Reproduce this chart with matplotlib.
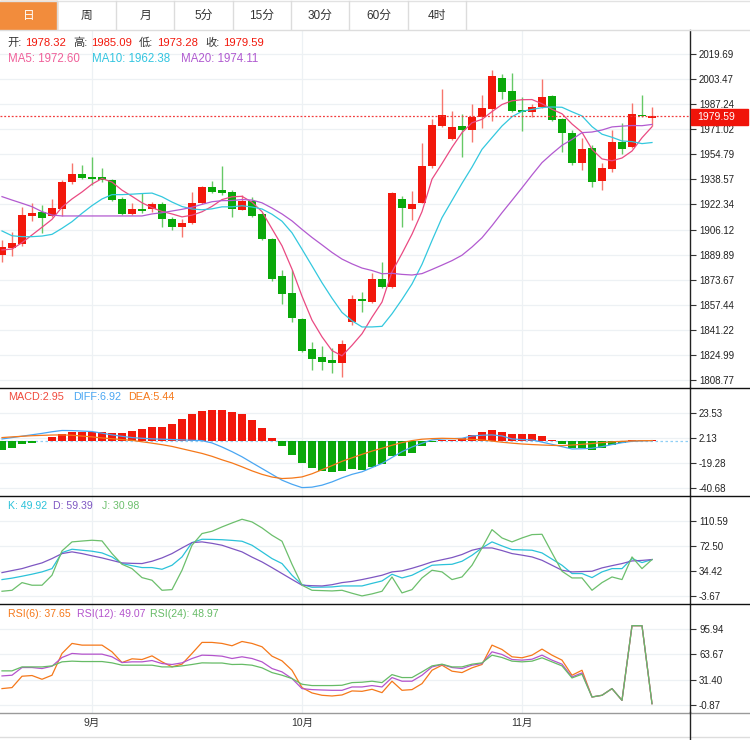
import numpy as np
import matplotlib
matplotlib.use('Agg')
import matplotlib.pyplot as plt
from matplotlib.patches import Rectangle
from matplotlib.lines import Line2D

plt.rcParams['font.family'] = ['Liberation Sans', 'Noto Sans CJK SC', 'DejaVu Sans']

tabs = ['日', '周', '月', '5分', '15分', '30分', '60分', '4时']
month_pos = [9, 30, 52]
month_labels = ['9月', '10月', '11月']

opens = [1889.6, 1894.2, 1896.8, 1914.9, 1917.5, 1914.9, 1919.4, 1936.9, 1942.1, 1940.1,
         1940.1, 1938.2, 1925.9, 1916.2, 1919.4, 1919.4, 1922.6, 1912.9, 1907.8, 1910.3,
         1923.3, 1933.6, 1931.7, 1930.4, 1918.8, 1924.6, 1916.2, 1900.0, 1876.1, 1865.0,
         1848.2, 1828.8, 1823.6, 1821.7, 1819.8, 1846.3, 1861.2, 1859.2, 1874.1, 1868.9,
         1925.9, 1919.4, 1923.3, 1947.2, 1973.1, 1964.7, 1973.1, 1970.5, 1978.9, 1984.1,
         2004.2, 1995.8, 1983.5, 1982.2, 1985.4, 1992.5, 1977.6, 1968.6, 1949.2, 1958.9,
         1937.5, 1945.3, 1962.8, 1959.5, 1980.2, 1978.32]
highs = [1899.4, 1904.5, 1920.7, 1923.3, 1922.0, 1925.9, 1938.2, 1949.2, 1947.9, 1953.1,
         1945.9, 1938.8, 1927.2, 1923.3, 1929.8, 1923.9, 1923.9, 1914.2, 1912.9, 1930.4,
         1934.3, 1937.5, 1947.2, 1931.7, 1928.5, 1927.2, 1916.8, 1900.6, 1879.9, 1879.9,
         1848.9, 1833.4, 1830.8, 1829.5, 1834.7, 1863.8, 1865.7, 1878.0, 1885.1, 1930.4,
         1927.8, 1931.0, 1962.1, 1977.6, 1997.1, 1982.8, 1980.9, 1987.3, 1993.2, 2009.3,
         2006.8, 2007.4, 1991.9, 1987.3, 2003.5, 1993.2, 1978.3, 1970.5, 1965.3, 1960.8,
         1949.2, 1970.5, 1975.0, 1988.0, 1993.2, 1985.09]
lows = [1885.1, 1889.0, 1895.5, 1911.6, 1903.9, 1914.2, 1914.9, 1935.6, 1938.8, 1934.9,
        1936.9, 1924.5, 1915.5, 1915.5, 1916.8, 1917.5, 1907.8, 1905.8, 1901.3, 1909.7,
        1922.6, 1929.8, 1928.5, 1914.2, 1918.8, 1914.2, 1899.4, 1872.8, 1857.9, 1846.3,
        1826.9, 1815.2, 1815.2, 1813.3, 1810.7, 1844.3, 1852.8, 1858.6, 1868.3, 1868.3,
        1907.8, 1912.3, 1923.3, 1945.9, 1972.5, 1964.0, 1953.0, 1962.8, 1971.8, 1976.3,
        1990.6, 1982.2, 1969.9, 1978.9, 1984.8, 1976.3, 1956.3, 1947.9, 1944.6, 1933.6,
        1931.7, 1943.3, 1955.0, 1958.9, 1978.9, 1973.28]
closes = [1894.8, 1897.4, 1915.5, 1916.8, 1913.6, 1920.1, 1936.9, 1942.1, 1939.5, 1938.8,
          1938.2, 1925.2, 1916.2, 1919.4, 1918.1, 1922.6, 1912.9, 1907.8, 1910.3, 1923.3,
          1933.6, 1930.4, 1929.8, 1919.4, 1924.6, 1914.9, 1900.0, 1874.1, 1864.4, 1848.9,
          1827.5, 1822.4, 1820.4, 1819.8, 1832.1, 1861.2, 1859.9, 1874.1, 1868.9, 1929.8,
          1920.1, 1922.6, 1947.2, 1973.8, 1980.2, 1972.5, 1970.5, 1978.9, 1984.8, 2005.5,
          1995.1, 1982.8, 1982.2, 1985.4, 1991.9, 1977.0, 1968.6, 1949.2, 1958.2, 1936.9,
          1945.9, 1962.8, 1958.2, 1980.9, 1979.6, 1979.59]

ma5 = [1892.9, 1893.5, 1897.6, 1902.6, 1907.6, 1912.7, 1920.6, 1925.9, 1930.4, 1935.5,
       1939.1, 1936.8, 1931.6, 1927.6, 1923.4, 1920.3, 1917.8, 1916.2, 1914.3, 1915.4,
       1917.6, 1921.1, 1925.5, 1927.3, 1927.6, 1923.8, 1917.7, 1906.6, 1895.6, 1880.5,
       1863.0, 1847.5, 1836.7, 1827.8, 1824.4, 1831.2, 1838.7, 1849.4, 1859.2, 1878.8,
       1890.6, 1903.1, 1917.7, 1938.7, 1948.8, 1959.3, 1968.8, 1975.2, 1977.4, 1982.4,
       1987.0, 1989.4, 1990.1, 1990.2, 1987.5, 1983.9, 1981.0, 1974.4, 1969.0, 1958.0,
       1951.8, 1950.6, 1952.4, 1956.9, 1965.5, 1972.6]
ma10 = [1905.2, 1902.1, 1901.5, 1901.5, 1901.9, 1903.0, 1906.9, 1911.2, 1916.6, 1921.6,
        1925.9, 1928.7, 1928.7, 1929.0, 1929.4, 1929.7, 1927.3, 1923.9, 1921.0, 1919.4,
        1918.9, 1919.5, 1920.8, 1920.8, 1921.5, 1920.7, 1919.4, 1916.0, 1911.5, 1904.0,
        1893.4, 1882.6, 1871.7, 1861.7, 1852.5, 1847.1, 1843.1, 1843.1, 1843.5, 1851.6,
        1860.9, 1870.9, 1883.6, 1899.0, 1913.8, 1924.9, 1936.0, 1946.5, 1958.0, 1965.6,
        1973.1, 1979.1, 1982.6, 1983.8, 1985.0, 1985.4, 1985.2, 1982.3, 1979.6, 1972.7,
        1967.8, 1965.8, 1963.4, 1963.0, 1961.7, 1962.4]
ma20 = [1927.4, 1925.2, 1923.1, 1920.9, 1917.7, 1915.5, 1914.9, 1914.9, 1914.9, 1914.9,
        1914.9, 1914.9, 1914.9, 1914.9, 1914.9, 1916.2, 1917.0, 1918.1, 1919.2, 1920.5,
        1922.4, 1924.1, 1924.8, 1924.9, 1925.5, 1925.2, 1923.4, 1920.0, 1916.2, 1911.7,
        1906.2, 1901.0, 1896.2, 1891.3, 1887.0, 1883.9, 1881.2, 1879.6, 1877.5, 1877.8,
        1877.1, 1876.7, 1877.6, 1880.3, 1883.1, 1886.0, 1889.5, 1894.8, 1900.8, 1908.6,
        1917.0, 1925.0, 1933.1, 1941.4, 1949.4, 1955.2, 1960.6, 1964.4, 1968.8, 1969.2,
        1970.5, 1972.5, 1973.0, 1973.4, 1973.3, 1974.1]

macd = [-8.1, -6.6, -2.9, -2.0, -0.3, 2.9, 6.1, 7.8, 7.8, 7.8,
        7.5, 6.3, 6.9, 8.4, 9.8, 11.3, 12.1, 14.4, 18.5, 23.1,
        25.7, 26.3, 26.3, 24.5, 23.1, 17.3, 10.7, 2.0, -4.6, -12.4,
        -19.0, -23.4, -26.3, -27.4, -26.5, -24.8, -25.4, -23.1, -20.5, -13.6,
        -13.6, -10.4, -4.6, -1.2, 0.2, 0.3, 2.3, 4.6, 7.2, 8.9,
        7.2, 6.1, 6.1, 5.5, 3.8, 0.2, -3.2, -6.6, -6.6, -8.4,
        -6.3, -3.8, -2.0, 0.3, 0.5, 0.8]
diff = [1.4, 2.6, 3.8, 5.0, 6.2, 7.6, 8.7, 8.6, 8.2, 7.8,
        6.4, 4.9, 3.7, 2.6, 2.0, 1.5, 1.2, 0.9, 0.6, 0.3,
        0.0, -2.0, -5.5, -9.5, -13.9, -19.0, -24.0, -29.0, -34.0, -37.5,
        -40.4, -40.0, -38.3, -35.5, -32.0, -29.0, -26.8, -23.2, -19.6, -14.5,
        -9.5, -5.5, -2.3, 0.6, 1.4, 1.7, 2.0, 4.0, 4.6, 4.9,
        4.0, 1.4, 0.9, 0.6, -1.3, -3.2, -5.2, -7.2, -7.0, -6.6,
        -5.2, -3.4, -1.8, -0.6, -0.2, 0.0]
dea = [2.6, 3.2, 3.7, 4.2, 4.5, 4.8, 4.9, 4.6, 3.9, 3.2,
       2.3, 1.6, 0.9, 0.2, -1.0, -2.2, -3.5, -5.0, -7.0, -9.0,
       -11.0, -13.5, -16.5, -19.2, -22.5, -26.0, -29.0, -31.3, -32.6, -32.2,
       -31.2, -28.5, -25.0, -21.5, -17.8, -14.8, -11.8, -9.0, -6.6, -4.0,
       -1.7, 0.0, 1.2, 1.7, 2.0, 1.8, 1.4, 1.0, 0.6, -0.4,
       -1.4, -2.2, -2.9, -3.4, -3.8, -4.1, -4.3, -3.8, -3.2, -2.5,
       -1.7, -1.1, -0.6, -0.3, -0.1, 0.0]

k_line = [21.8, 24.0, 26.9, 30.0, 33.5, 38.5, 62.9, 68.0, 66.5, 65.0,
          62.4, 56.3, 46.2, 43.0, 40.1, 40.1, 37.5, 43.6, 56.3, 78.1,
          83.2, 83.0, 82.5, 81.5, 80.2, 74.1, 64.0, 53.8, 46.2, 28.4,
          14.2, 10.1, 10.3, 10.6, 12.1, 12.1, 12.1, 16.0, 19.7, 29.9,
          24.3, 28.4, 36.0, 43.6, 44.5, 45.1, 49.7, 58.8, 70.0, 79.2,
          73.1, 67.5, 67.0, 66.5, 62.4, 53.0, 43.6, 31.0, 31.0, 24.8,
          33.5, 38.5, 38.5, 53.8, 47.7, 52.3]
d_line = [32.4, 35.5, 38.5, 43.0, 47.2, 53.8, 61.4, 64.0, 61.4, 58.0,
          54.8, 51.0, 47.2, 46.5, 46.2, 49.7, 54.8, 61.4, 70.0, 78.1,
          79.2, 77.0, 74.1, 69.0, 64.0, 56.0, 48.7, 40.0, 31.0, 22.0,
          13.2, 12.5, 12.1, 14.0, 17.2, 19.0, 21.8, 25.0, 28.4, 33.5,
          35.0, 39.0, 43.6, 48.7, 52.0, 55.3, 60.0, 66.5, 70.0, 70.0,
          66.0, 61.4, 59.0, 56.3, 51.2, 43.6, 36.0, 33.5, 34.0, 34.5,
          39.6, 43.0, 46.2, 50.2, 51.0, 52.3]
j_line = [4.0, 5.5, 17.2, 13.2, 13.2, 28.4, 65.5, 79.2, 80.5, 81.7,
          80.7, 61.4, 45.1, 38.5, 24.8, 20.8, 5.5, 6.5, 36.0, 74.1,
          91.9, 95.4, 102.0, 108.0, 113.7, 109.6, 100.5, 89.3, 80.2, 45.1,
          13.2, 5.5, 5.0, 4.5, 5.5, 1.0, -3.1, 0.0, 4.0, 25.8,
          1.5, 6.5, 24.3, 36.0, 33.5, 21.8, 25.8, 43.6, 70.0, 97.9,
          85.2, 79.2, 85.2, 90.3, 90.8, 62.4, 34.5, 24.3, 24.3, 5.5,
          17.2, 25.8, 21.8, 56.3, 38.5, 52.3]

rsi6 = [19.8, 21.1, 35.7, 36.6, 31.8, 37.0, 65.0, 77.9, 75.7, 75.7,
        75.7, 67.1, 53.3, 58.1, 57.2, 61.9, 54.2, 47.8, 51.2, 65.0,
        79.2, 79.2, 77.9, 74.9, 80.4, 77.9, 73.6, 61.5, 55.5, 43.4,
        21.1, 14.2, 11.2, 10.3, 11.6, 16.8, 16.3, 18.9, 14.6, 29.3,
        17.6, 18.5, 26.2, 43.4, 49.9, 42.2, 40.4, 46.5, 50.8, 75.7,
        70.1, 60.7, 59.4, 62.8, 70.6, 62.8, 56.4, 37.0, 43.4, 9.0,
        11.2, 19.8, 4.7, 100.7, 100.7, 0.4]
rsi12 = [36.1, 37.0, 46.9, 46.9, 45.6, 48.6, 59.8, 65.0, 64.1, 64.1,
         64.1, 60.7, 53.3, 54.2, 54.2, 55.9, 52.0, 50.8, 52.9, 58.5,
         62.8, 62.4, 61.5, 58.5, 60.7, 58.5, 54.2, 45.6, 41.3, 32.7,
         19.8, 18.5, 18.0, 17.6, 17.6, 21.9, 21.9, 23.7, 21.9, 34.0,
         29.3, 29.3, 37.0, 47.7, 50.8, 46.9, 45.6, 49.9, 52.0, 67.1,
         63.7, 57.2, 56.4, 57.6, 62.8, 56.4, 51.2, 34.8, 40.0, 9.0,
         11.2, 19.8, 4.7, 100.7, 100.7, 0.4]
rsi24 = [42.6, 42.6, 47.7, 47.7, 47.7, 49.0, 54.2, 55.1, 54.6, 54.6,
         54.6, 52.9, 49.9, 49.9, 49.9, 49.9, 47.7, 47.7, 49.0, 50.8,
         52.9, 52.7, 52.7, 50.8, 51.0, 49.9, 46.5, 40.4, 37.0, 32.7,
         25.4, 23.7, 23.7, 23.7, 24.1, 27.5, 28.0, 29.3, 27.5, 37.8,
         34.0, 34.0, 41.3, 49.0, 51.2, 47.7, 47.7, 51.2, 52.9, 62.8,
         59.8, 55.1, 54.2, 55.1, 59.4, 54.2, 49.0, 33.5, 38.3, 9.0,
         11.2, 19.8, 4.7, 100.7, 100.7, 0.4]

price_ticks = [2019.69, 2003.47, 1987.24, 1971.02, 1954.79, 1938.57, 1922.34,
               1906.12, 1889.89, 1873.67, 1857.44, 1841.22, 1824.99, 1808.77]
macd_ticks = [23.53, 2.13, -19.28, -40.68]
kdj_ticks = [110.59, 72.50, 34.42, -3.67]
rsi_ticks = [95.94, 63.67, 31.40, -0.87]

RED = '#f2180c'
GREEN = '#0aa80a'
GRID = '#edf1f4'

W, H = 750, 740
fig = plt.figure(figsize=(7.5, 7.4), dpi=100)


def fy(y):
    return 1 - y / H


def panel(top, bottom):
    return fig.add_axes([0, fy(bottom), 690 / W, (bottom - top) / H])


def put(x, y, s, color, size=7.5):
    fig.text(x / W, fy(y), s, color=color, fontsize=size, va='center', ha='left')


def style(ax, ticks, ylim):
    ax.set_xlim(-0.2, 68.8)
    ax.set_ylim(*ylim)
    ax.set_xticks(month_pos)
    ax.tick_params(axis='x', length=0, labelbottom=False)
    ax.yaxis.tick_right()
    ax.set_yticks(ticks)
    ax.set_yticklabels(['%.2f' % t for t in ticks])
    ax.tick_params(axis='y', labelsize=7, length=4, color='#333', labelcolor='#222', pad=2.5)
    ax.grid(True, color=GRID, lw=0.9)
    ax.set_axisbelow(True)
    for s in ['top', 'left', 'bottom']:
        ax.spines[s].set_visible(False)
    ax.spines['right'].set_color('#222')
    ax.spines['right'].set_linewidth(1)


idx = np.arange(len(closes))
o = np.array(opens)
c = np.array(closes)
up = c >= o

# price panel
ax_k = panel(30, 388)
style(ax_k, price_ticks, (1803.6, 2035.2))
ax_k.vlines(idx, lows, highs, colors=np.where(up, '#f7766d', '#66c966'), lw=1, zorder=2)
ax_k.bar(idx, np.maximum(np.abs(c - o), 0.7), bottom=np.minimum(o, c), width=0.8,
         color=np.where(up, RED, GREEN), zorder=3)
ax_k.plot(idx, ma5, color='#ea4a82', lw=0.9, zorder=4)
ax_k.plot(idx, ma10, color='#33c8de', lw=0.9, zorder=4)
ax_k.plot(idx, ma20, color='#b25ad0', lw=0.9, zorder=4)
ax_k.axhline(closes[-1], color='#f23c3c', ls=(0, (1.5, 1.5)), lw=0.9, zorder=5)

# macd panel
ax_m = panel(388, 496)
style(ax_m, macd_ticks, (-47.6, 45.2))
mv = np.array(macd)
ax_m.bar(idx, mv, width=0.8, color=np.where(mv >= 0, RED, GREEN), zorder=2)
ax_m.axhline(0, color='#8fcff5', ls=(0, (2, 2)), lw=0.9, zorder=1)
ax_m.plot(idx, diff, color='#4aa6f2', lw=0.9, zorder=3)
ax_m.plot(idx, dea, color='#f5781a', lw=0.9, zorder=3)

# kdj panel
ax_j = panel(496, 604)
style(ax_j, kdj_ticks, (-15.4, 149.1))
ax_j.plot(idx, k_line, color='#2bc2d9', lw=0.9)
ax_j.plot(idx, d_line, color='#7e57c2', lw=0.9)
ax_j.plot(idx, j_line, color='#6cbf6c', lw=0.9)

# rsi panel
ax_r = panel(604, 712.7)
style(ax_r, rsi_ticks, (-11.2, 128.6))
ax_r.plot(idx, rsi6, color='#f5781a', lw=0.9)
ax_r.plot(idx, rsi12, color='#b454cc', lw=0.9)
ax_r.plot(idx, rsi24, color='#66bb66', lw=0.9)
ax_r.set_xticks(month_pos, month_labels)
ax_r.tick_params(axis='x', labelbottom=True, length=0, pad=3.5, labelsize=7.5, labelcolor='#333')

# separators
for y, col in [(30, '#dddddd'), (388, '#111111'), (496, '#111111'), (604, '#111111'),
               (712.7, '#9a9a9a'), (737, '#dddddd')]:
    fig.add_artist(Line2D([0, 1], [fy(y), fy(y)], color=col, lw=1))
fig.add_artist(Line2D([690 / W, 690 / W], [fy(712), fy(740)], color='#222', lw=1))

# tab bar
ax_t = fig.add_axes([0, fy(30), 1, 30 / H])
ax_t.set_xlim(0, W)
ax_t.set_ylim(30, 0)
ax_t.axis('off')
edges = [0, 57.3, 115.7, 174.3, 232.7, 291, 349.3, 407.7, 466]
ax_t.add_patch(Rectangle((0, 1), edges[1], 29, color='#f28c3c'))
ax_t.plot([0, W], [1, 1], color='#e2e2e2', lw=1)
for e in edges[1:]:
    ax_t.plot([e, e], [1, 30], color='#dcdcdc', lw=1)
for n, name in enumerate(tabs):
    ax_t.text((edges[n] + edges[n + 1]) / 2, 15.5, name, ha='center', va='center',
              fontsize=8.5, color='white' if n == 0 else '#333')

# price label
fig.add_artist(Rectangle((691 / W, fy(124.5)), 57 / W, 16 / H, color='#f0140a',
                         transform=fig.transFigure))
put(697, 116.5, '%.2f' % closes[-1], 'white', 7.5)

# legends
put(7, 43, '开:', '#333', 8.1)
put(25, 43, '%.2f' % opens[-1], RED, 8.1)
put(73, 43, '高:', '#333', 8.1)
put(91, 43, '%.2f' % highs[-1], RED, 8.1)
put(139, 43, '低:', '#333', 8.1)
put(157, 43, '%.2f' % lows[-1], RED, 8.1)
put(205, 43, '收:', '#333', 8.1)
put(223, 43, '%.2f' % closes[-1], RED, 8.1)
put(8, 59, 'MA5: %.2f' % ma5[-1], '#f0609a', 8.3)
put(92, 59, 'MA10: %.2f' % 1962.38, '#32c5e0', 8.3)
put(181, 59, 'MA20: %.2f' % 1974.11, '#b05ad0', 8.3)

put(8, 397, 'MACD:2.95', '#f04a3c', 7.8)
put(73, 397, 'DIFF:6.92', '#4aa6f2', 7.8)
put(128, 397, 'DEA:5.44', '#f5781a', 7.8)

put(8, 506, 'K: 49.92', '#2bc2d9', 7.6)
put(53, 506, 'D: 59.39', '#7e57c2', 7.6)
put(102, 506, 'J: 30.98', '#6cbf6c', 7.6)

put(8, 614, 'RSI(6): 37.65', '#f5781a', 7.6)
put(77, 614, 'RSI(12): 49.07', '#b454cc', 7.6)
put(150, 614, 'RSI(24): 48.97', '#66bb66', 7.6)

fig.savefig('out.png', dpi=100)
